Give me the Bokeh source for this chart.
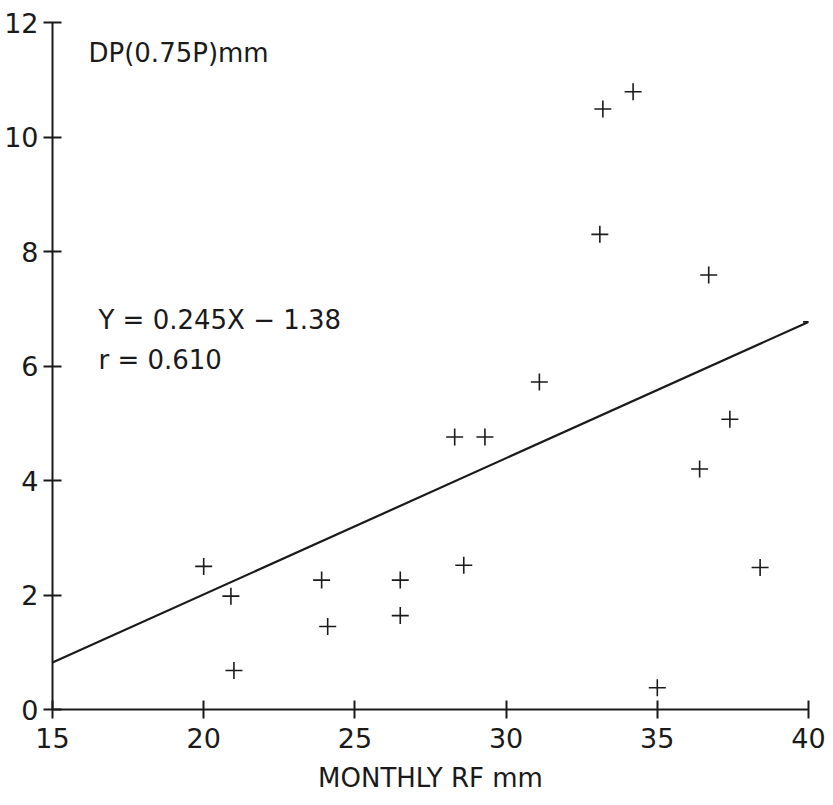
from bokeh.plotting import figure
from bokeh.models import Label, Range1d, FixedTicker
from bokeh.embed import file_html
from bokeh.resources import INLINE

# Observations: monthly rainfall (mm) vs DP(0.75P) (mm)
rainfall_mm = [20.0, 20.9, 21.0, 23.9, 24.1, 26.5, 26.5, 28.3, 28.6, 29.3,
               31.1, 33.1, 33.2, 34.2, 35.0, 36.4, 36.7, 37.4, 38.4, 40.1]
dp_mm = [2.50, 1.98, 0.68, 2.26, 1.45, 2.26, 1.64, 4.76, 2.52, 4.76,
         5.72, 8.30, 10.49, 10.79, 0.38, 4.20, 7.59, 5.07, 2.48, 6.77]

# Fitted line as drawn
fit_x = [15, 40]
fit_y = [0.82, 6.77]

x_ticks = [15, 20, 25, 30, 35, 40]
y_ticks = [0, 2, 4, 6, 8, 10, 12]

FONT = "DejaVu Sans"
INK = "#1a1a1a"

p = figure(width=833, height=805, output_backend="svg", toolbar_location=None,
           x_range=Range1d(15, 40), y_range=Range1d(0, 12),
           min_border_left=52, min_border_right=25, min_border_top=22, min_border_bottom=96)
p.outline_line_color = None
p.xgrid.visible = False
p.ygrid.visible = False
p.background_fill_color = "white"
p.border_fill_color = "white"

for ax in (p.xaxis[0], p.yaxis[0]):
    ax.axis_line_width = 2
    ax.axis_line_color = INK
    ax.major_tick_line_width = 2
    ax.major_tick_line_color = INK
    ax.major_tick_in = 9
    ax.major_tick_out = 9
    ax.minor_tick_line_color = None
    ax.major_label_text_font = FONT
    ax.major_label_text_font_size = "27px"
    ax.major_label_text_color = INK

p.xaxis.ticker = FixedTicker(ticks=x_ticks)
p.yaxis.ticker = FixedTicker(ticks=y_ticks)
p.xaxis.major_label_standoff = 9
p.yaxis.major_label_standoff = 5
p.xaxis.axis_label = "MONTHLY RF mm"
p.xaxis.axis_label_text_font = FONT
p.xaxis.axis_label_text_font_size = "26px"
p.xaxis.axis_label_text_font_style = "normal"
p.xaxis.axis_label_text_color = INK
p.xaxis.axis_label_standoff = 12

p.line(fit_x, fit_y, line_color=INK, line_width=2.2)
p.scatter(rainfall_mm, dp_mm, marker="cross", size=17, line_color=INK,
          line_width=1.6)

p.add_layout(Label(x=16.19, y=11.46, text="DP(0.75P)mm", text_font=FONT,
                   text_font_size="26px", text_color=INK,
                   text_baseline="alphabetic"))
p.add_layout(Label(x=16.52, y=6.81, text="Y = 0.245X \u2212 1.38", text_font=FONT,
                   text_font_size="26px", text_color=INK,
                   text_baseline="alphabetic"))
p.add_layout(Label(x=16.52, y=6.10, text="r = 0.610", text_font=FONT,
                   text_font_size="26px", text_color=INK,
                   text_baseline="alphabetic"))

open("out.html", "w").write(file_html(p, INLINE))
